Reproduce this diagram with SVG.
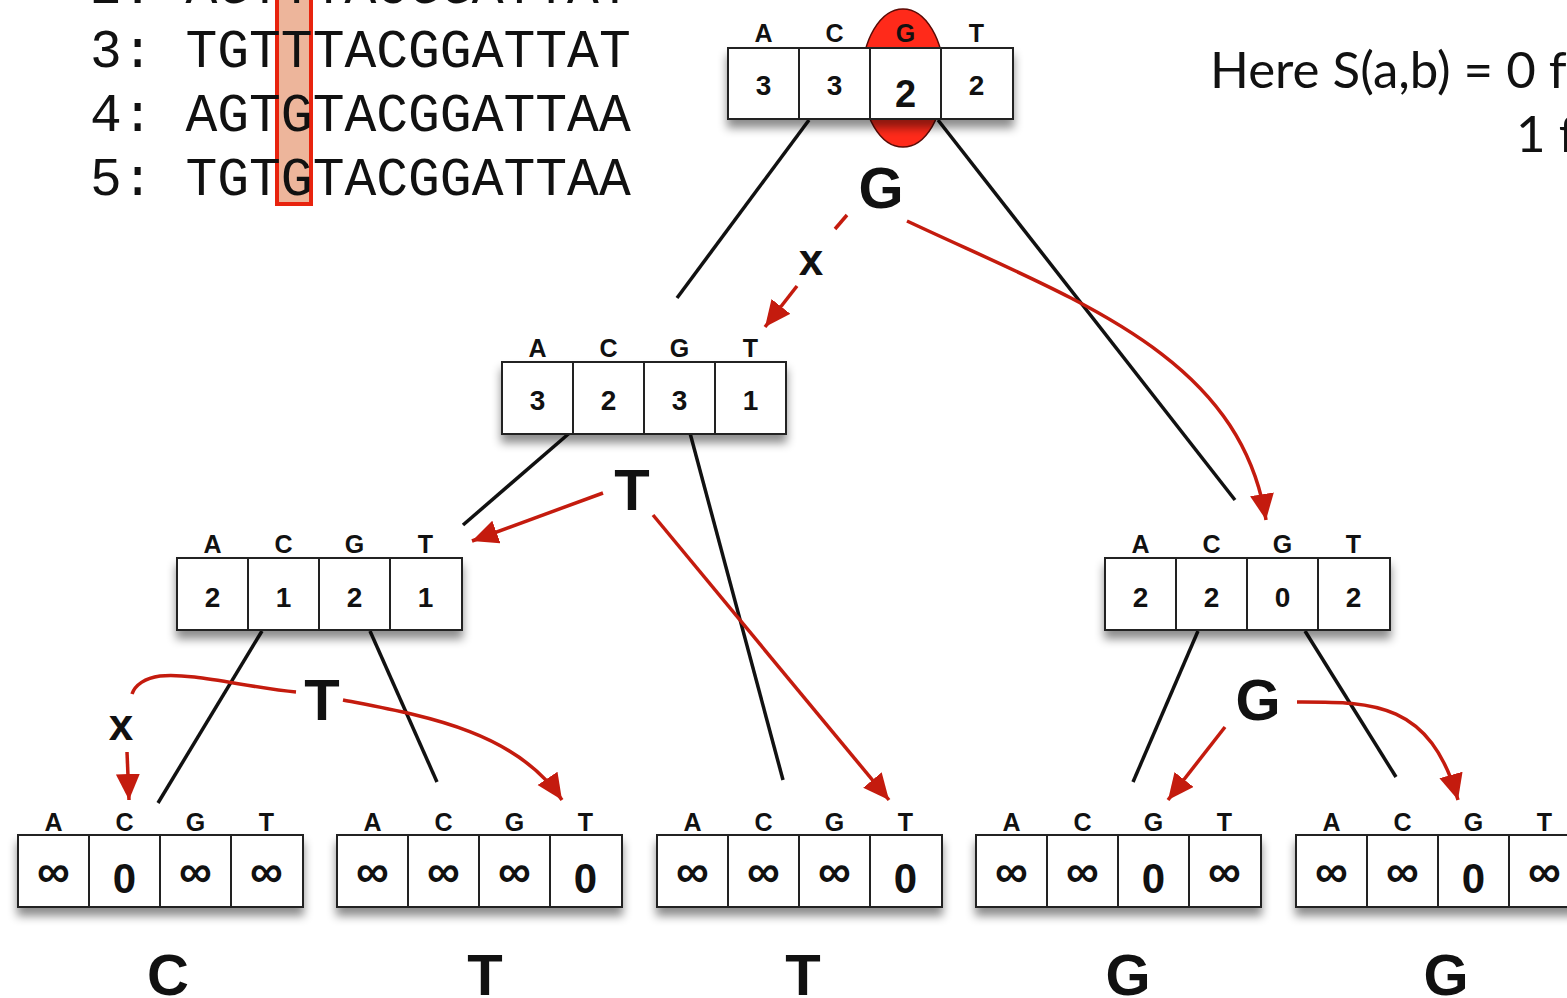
<svg xmlns="http://www.w3.org/2000/svg" width="1567" height="998" viewBox="0 0 1567 998">
<defs>
<filter id="sh" x="-10%" y="-30%" width="120%" height="180%">
<feDropShadow dx="0" dy="8" stdDeviation="5" flood-color="#000" flood-opacity="0.45"/>
</filter>
<marker id="ah" markerUnits="userSpaceOnUse" markerWidth="28" markerHeight="26" refX="26" refY="12" orient="auto">
<path d="M0,0 L26,12 L0,24 z" fill="#c41b0e"/>
</marker>
</defs>
<style>
.box{fill:#fff;stroke:#222;stroke-width:2}
.div{stroke:#222;stroke-width:2}
.lb{font-family:"Liberation Sans",Arial,sans-serif;font-weight:bold;font-size:25px;text-anchor:middle;fill:#111}
.v{font-family:"Liberation Sans",Arial,sans-serif;font-weight:bold;font-size:28px;text-anchor:middle;fill:#111}
.z{font-family:"Liberation Sans",Arial,sans-serif;font-weight:bold;font-size:42px;text-anchor:middle;fill:#111}
.inf{font-family:"Liberation Sans",Arial,sans-serif;font-weight:bold;font-size:46px;text-anchor:middle;fill:#111}
.big{font-family:"Liberation Sans",Arial,sans-serif;font-weight:bold;font-size:58px;text-anchor:middle;fill:#111}
.x{font-family:"Liberation Sans",Arial,sans-serif;font-weight:bold;font-size:44px;text-anchor:middle;fill:#111}
.seq{font-family:"Liberation Mono","Courier New",monospace;font-size:53px;fill:#111}
.note{font-family:Lato,"Open Sans",sans-serif;font-size:51px;fill:#111}
.edge{stroke:#111;stroke-width:3.5;fill:none}
.ar{stroke:#c41b0e;stroke-width:3.5;fill:none}
</style>
<rect width="1567" height="998" fill="#fff"/>

<g id="sequences">
<rect x="277" y="-6" width="34" height="210" fill="#edb59b" stroke="#e8230e" stroke-width="4"/>
<text class="seq" x="90" y="3" xml:space="preserve">2: AGTTTACGGATTAT</text>
<text class="seq" x="90" y="67" xml:space="preserve">3: TGTTTACGGATTAT</text>
<text class="seq" x="90" y="131" xml:space="preserve">4: AGTGTACGGATTAA</text>
<text class="seq" x="90" y="195" xml:space="preserve">5: TGTGTACGGATTAA</text>
</g>

<g id="note">
<text class="note" x="1210" y="88">Here S(a,b) = 0 f</text>
<text class="note" x="1516" y="152">1 f</text>
</g>

<g id="connectors">
<line class="edge" x1="809" y1="120" x2="677" y2="298"/>
<line class="edge" x1="938" y1="120" x2="1235" y2="500"/>
<line class="edge" x1="573" y1="430" x2="463" y2="525"/>
<line class="edge" x1="690" y1="433" x2="783" y2="780"/>
<line class="edge" x1="262" y1="631" x2="158" y2="803"/>
<line class="edge" x1="370" y1="631" x2="437" y2="782"/>
<line class="edge" x1="1198" y1="631" x2="1133" y2="782"/>
<line class="edge" x1="1305" y1="631" x2="1396" y2="777"/>

<line class="ar" x1="847" y1="215" x2="835" y2="229"/>
<line class="ar" x1="797" y1="286" x2="765" y2="327" marker-end="url(#ah)"/>
<path class="ar" d="M907,221 C1075,300 1240,355 1266,520" marker-end="url(#ah)"/>
<line class="ar" x1="603" y1="493" x2="472" y2="541" marker-end="url(#ah)"/>
<line class="ar" x1="653" y1="515" x2="889" y2="800" marker-end="url(#ah)"/>
<path class="ar" d="M296,692 C250,688 190,672 160,676 C145,678 135,685 132,694"/>
<line class="ar" x1="127" y1="752" x2="129" y2="800" marker-end="url(#ah)"/>
<path class="ar" d="M343,700 C420,715 515,730 562,800" marker-end="url(#ah)"/>
<line class="ar" x1="1225" y1="727" x2="1168" y2="800" marker-end="url(#ah)"/>
<path class="ar" d="M1297,702 C1370,702 1430,700 1458,800" marker-end="url(#ah)"/>

<text class="big" x="881" y="208">G</text>
<text class="x" x="811" y="275">x</text>
<text class="big" x="632" y="510">T</text>
<text class="big" x="322" y="720">T</text>
<text class="x" x="121" y="740">x</text>
<text class="big" x="1258" y="720">G</text>
</g>

<g id="root">
<ellipse cx="903" cy="78" rx="41" ry="69" fill="#ff2a1a" stroke="#5a0a05" stroke-width="1.5"/>
<rect class="box" x="728" y="48" width="285" height="71" filter="url(#sh)"/>
<rect class="box" x="728" y="48" width="285" height="71" fill="none"/>
<path class="div" d="M799,48V119M870,48V119M941,48V119"/>
<text class="lb" x="763.5" y="42">A</text><text class="lb" x="834.5" y="42">C</text><text class="lb" x="905.5" y="42">G</text><text class="lb" x="976.5" y="42">T</text>
<text class="v" x="763.5" y="95">3</text><text class="v" x="834.5" y="95">3</text><text class="v" x="905.5" y="107" style="font-size:38px">2</text><text class="v" x="976.5" y="95">2</text>
</g>

<g id="n1">
<rect class="box" x="502" y="362" width="284" height="72" filter="url(#sh)"/>
<path class="div" d="M573,362V434M644,362V434M715,362V434"/>
<text class="lb" x="537.5" y="357">A</text><text class="lb" x="608.5" y="357">C</text><text class="lb" x="679.5" y="357">G</text><text class="lb" x="750.5" y="357">T</text>
<text class="v" x="537.5" y="410">3</text><text class="v" x="608.5" y="410">2</text><text class="v" x="679.5" y="410">3</text><text class="v" x="750.5" y="410">1</text>
</g>

<g id="n2">
<rect class="box" x="177" y="558" width="285" height="72" filter="url(#sh)"/>
<path class="div" d="M248,558V630M319,558V630M390,558V630"/>
<text class="lb" x="212.5" y="553">A</text><text class="lb" x="283.5" y="553">C</text><text class="lb" x="354.5" y="553">G</text><text class="lb" x="425.5" y="553">T</text>
<text class="v" x="212.5" y="607">2</text><text class="v" x="283.5" y="607">1</text><text class="v" x="354.5" y="607">2</text><text class="v" x="425.5" y="607">1</text>
</g>

<g id="n3">
<rect class="box" x="1105" y="558" width="285" height="72" filter="url(#sh)"/>
<path class="div" d="M1176,558V630M1247,558V630M1318,558V630"/>
<text class="lb" x="1140.5" y="553">A</text><text class="lb" x="1211.5" y="553">C</text><text class="lb" x="1282.5" y="553">G</text><text class="lb" x="1353.5" y="553">T</text>
<text class="v" x="1140.5" y="607">2</text><text class="v" x="1211.5" y="607">2</text><text class="v" x="1282.5" y="607">0</text><text class="v" x="1353.5" y="607">2</text>
</g>

<g id="leaf1">
<rect class="box" x="18" y="835" width="285" height="72" filter="url(#sh)"/>
<path class="div" d="M89,835V907M160,835V907M231,835V907"/>
<text class="lb" x="53.5" y="831">A</text><text class="lb" x="124.5" y="831">C</text><text class="lb" x="195.5" y="831">G</text><text class="lb" x="266.5" y="831">T</text>
<text class="inf" x="53.5" y="887">∞</text><text class="z" x="124.5" y="893">0</text><text class="inf" x="195.5" y="887">∞</text><text class="inf" x="266.5" y="887">∞</text>
<text class="big" x="168" y="995">C</text>
</g>

<g id="leaf2">
<rect class="box" x="337" y="835" width="285" height="72" filter="url(#sh)"/>
<path class="div" d="M408,835V907M479,835V907M550,835V907"/>
<text class="lb" x="372.5" y="831">A</text><text class="lb" x="443.5" y="831">C</text><text class="lb" x="514.5" y="831">G</text><text class="lb" x="585.5" y="831">T</text>
<text class="inf" x="372.5" y="887">∞</text><text class="inf" x="443.5" y="887">∞</text><text class="inf" x="514.5" y="887">∞</text><text class="z" x="585.5" y="893">0</text>
<text class="big" x="485" y="995">T</text>
</g>

<g id="leaf3">
<rect class="box" x="657" y="835" width="285" height="72" filter="url(#sh)"/>
<path class="div" d="M728,835V907M799,835V907M870,835V907"/>
<text class="lb" x="692.5" y="831">A</text><text class="lb" x="763.5" y="831">C</text><text class="lb" x="834.5" y="831">G</text><text class="lb" x="905.5" y="831">T</text>
<text class="inf" x="692.5" y="887">∞</text><text class="inf" x="763.5" y="887">∞</text><text class="inf" x="834.5" y="887">∞</text><text class="z" x="905.5" y="893">0</text>
<text class="big" x="803" y="995">T</text>
</g>

<g id="leaf4">
<rect class="box" x="976" y="835" width="285" height="72" filter="url(#sh)"/>
<path class="div" d="M1047,835V907M1118,835V907M1189,835V907"/>
<text class="lb" x="1011.5" y="831">A</text><text class="lb" x="1082.5" y="831">C</text><text class="lb" x="1153.5" y="831">G</text><text class="lb" x="1224.5" y="831">T</text>
<text class="inf" x="1011.5" y="887">∞</text><text class="inf" x="1082.5" y="887">∞</text><text class="z" x="1153.5" y="893">0</text><text class="inf" x="1224.5" y="887">∞</text>
<text class="big" x="1128" y="995">G</text>
</g>

<g id="leaf5">
<rect class="box" x="1296" y="835" width="285" height="72" filter="url(#sh)"/>
<path class="div" d="M1367,835V907M1438,835V907M1509,835V907"/>
<text class="lb" x="1331.5" y="831">A</text><text class="lb" x="1402.5" y="831">C</text><text class="lb" x="1473.5" y="831">G</text><text class="lb" x="1544.5" y="831">T</text>
<text class="inf" x="1331.5" y="887">∞</text><text class="inf" x="1402.5" y="887">∞</text><text class="z" x="1473.5" y="893">0</text><text class="inf" x="1544.5" y="887">∞</text>
<text class="big" x="1446" y="995">G</text>
</g>
</svg>
